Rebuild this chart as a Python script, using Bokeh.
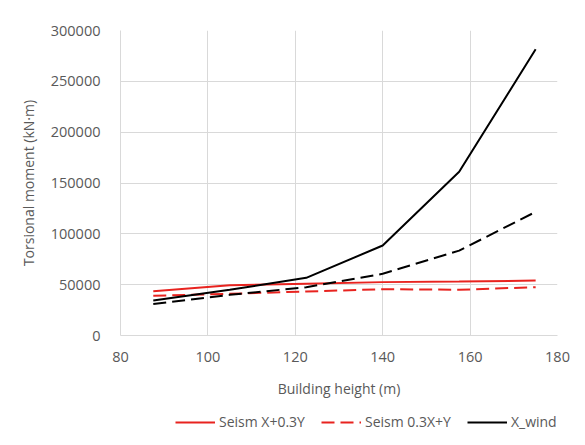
from bokeh.plotting import figure
from bokeh.layouts import column
from bokeh.models import Legend, LegendItem, FixedTicker, Range1d, BasicTickFormatter
from bokeh.embed import file_html
from bokeh.resources import INLINE

heights = [87.5, 105, 122.5, 140, 157.5, 175]
seism_x = [43500, 49500, 51000, 52500, 53000, 54000]
seism_y = [39000, 41000, 43300, 45500, 45000, 47500]
x_wind = [34500, 45000, 56700, 88500, 161000, 281500]
y_wind = [31000, 40000, 47500, 60700, 83500, 121600]

x_ticks = [80, 100, 120, 140, 160, 180]
y_ticks = [0, 50000, 100000, 150000, 200000, 250000, 300000]
series_names = ["Seism X+0.3Y", "Seism 0.3X+Y", "X_wind", "Y_wind"]

FONT = "Open Sans"
TXT = "#595959"
RED = "#e8231f"
DASH = "13 6"

p = figure(frame_width=437, frame_height=305, output_backend="svg", toolbar_location=None,
           x_range=Range1d(80, 180), y_range=Range1d(0, 300000),
           min_border_left=120, min_border_right=28, min_border_top=30, min_border_bottom=0)
p.outline_line_color = None
p.background_fill_color = "white"
p.border_fill_color = "white"

for ax in (p.xaxis[0], p.yaxis[0]):
    ax.major_label_text_font = FONT
    ax.major_label_text_font_size = "14.5px"
    ax.major_label_text_color = TXT
    ax.axis_label_text_font = FONT
    ax.axis_label_text_font_size = "14px"
    ax.axis_label_text_color = TXT
    ax.axis_label_text_font_style = "normal"
    ax.major_tick_line_color = None
    ax.minor_tick_line_color = None
    ax.axis_line_color = "#d9d9d9"

p.yaxis.major_label_standoff = 14
p.xaxis.major_label_standoff = 10
p.xaxis.ticker = FixedTicker(ticks=x_ticks)
p.yaxis.ticker = FixedTicker(ticks=y_ticks)
p.yaxis.formatter = BasicTickFormatter(use_scientific=False)
p.xaxis.axis_label = "Building height (m)"
p.yaxis.axis_label = "Torsional moment (kN·m)"
p.xaxis.axis_label_standoff = 14
p.yaxis.axis_label_standoff = 10
p.xgrid.grid_line_color = "#d9d9d9"
p.ygrid.grid_line_color = "#d9d9d9"

p.line(heights, seism_x, line_color=RED, line_width=2)
p.line(heights, seism_y, line_color=RED, line_width=2, line_dash=DASH)
p.line(heights, x_wind, line_color="black", line_width=2)
p.line(heights, y_wind, line_color="black", line_width=2, line_dash=DASH)

# legend strip below the chart (its lines lie outside this strip's view)
lg = figure(width=585, height=44, output_backend="svg", toolbar_location=None,
            x_range=Range1d(0, 1), y_range=Range1d(0, 1),
            x_axis_type=None, y_axis_type=None,
            min_border_left=0, min_border_right=0, min_border_top=0, min_border_bottom=0)
lg.outline_line_color = None
lg.xgrid.visible = False
lg.ygrid.visible = False
l1 = lg.line(heights, seism_x, line_color=RED, line_width=2)
l2 = lg.line(heights, seism_y, line_color=RED, line_width=2, line_dash=DASH)
l3 = lg.line(heights, x_wind, line_color="black", line_width=2)
l4 = lg.line(heights, y_wind, line_color="black", line_width=2, line_dash=DASH)

legend = Legend(items=[LegendItem(label=n, renderers=[r])
                       for n, r in zip(series_names, [l1, l2, l3, l4])],
                orientation="horizontal", location=(55, 13))
legend.label_text_font = FONT
legend.label_text_font_size = "14px"
legend.label_text_color = TXT
legend.glyph_width = 40
legend.glyph_height = 16
legend.label_standoff = 4
legend.spacing = 16
legend.border_line_color = None
legend.background_fill_alpha = 0
legend.margin = 0
legend.padding = 0
lg.add_layout(legend, "center")

layout = column(p, lg, spacing=0)
open("out.html", "w").write(file_html(layout, INLINE))
